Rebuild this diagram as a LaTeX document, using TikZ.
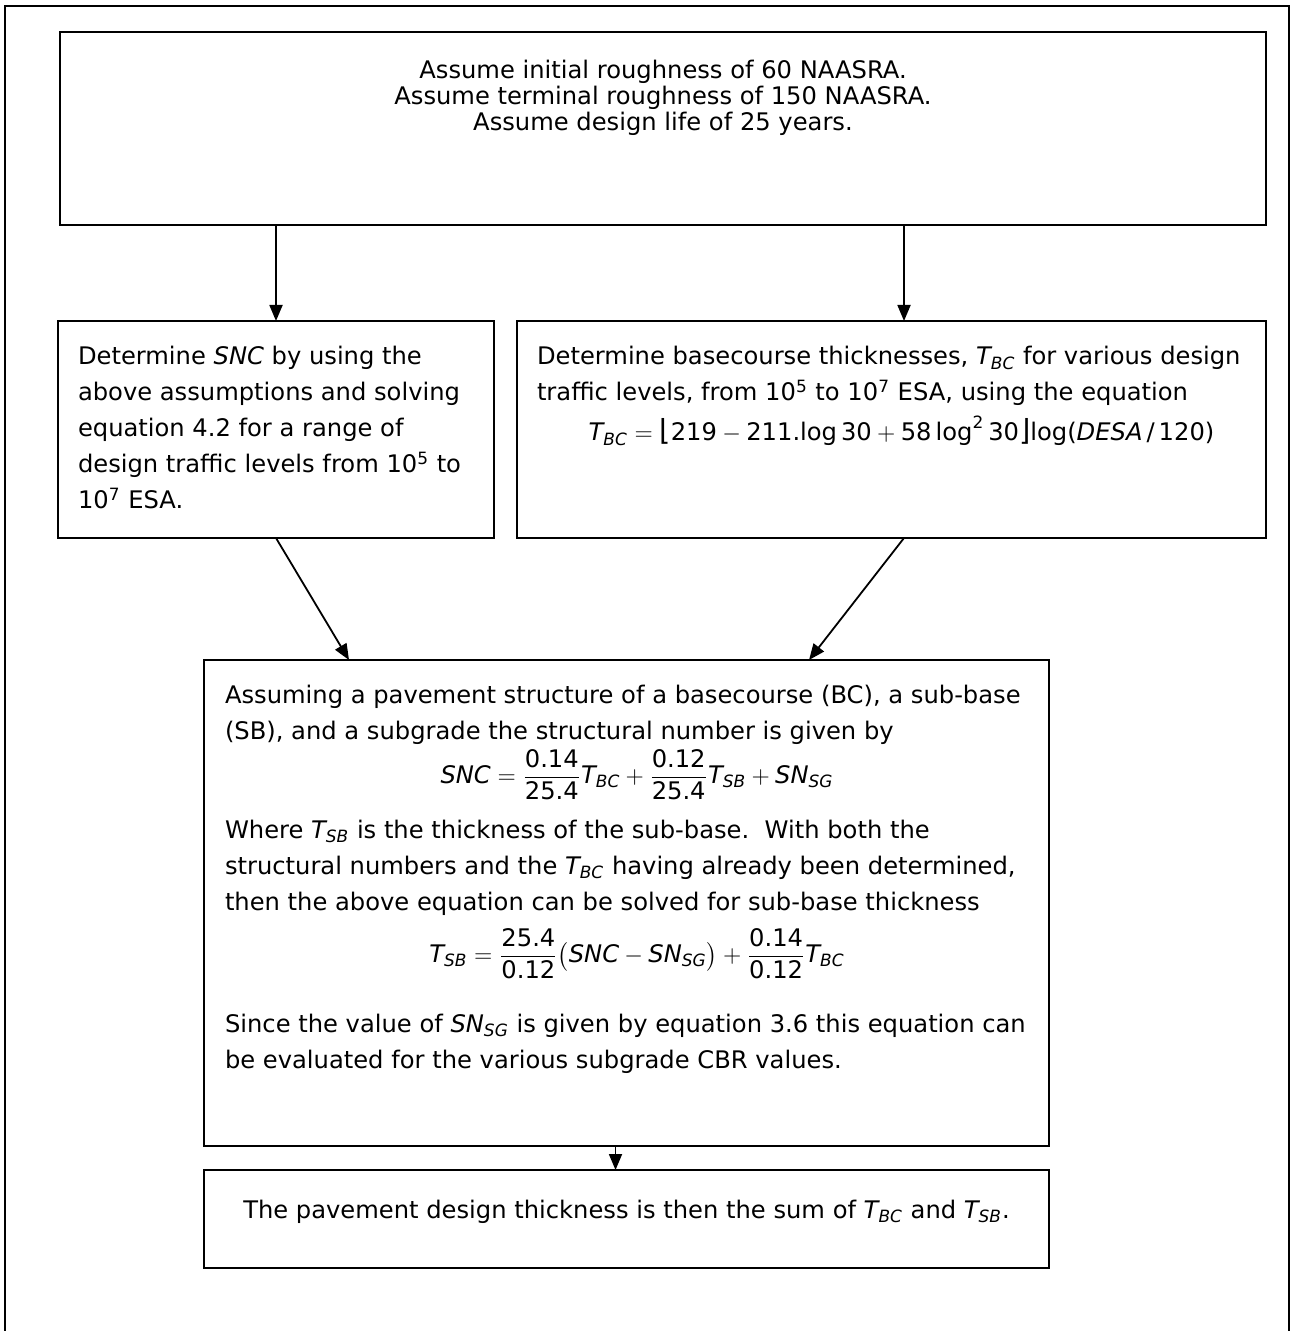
\documentclass[tikz,border=0pt]{standalone}
\usepackage{amsmath}
\usepackage{fontspec}
\setmainfont{DejaVu Sans}
\usetikzlibrary{arrows.meta,calc}
\tikzset{
    > = {Triangle[length=8pt, width=6.5pt]},
    flow/.style = {->, line width=0.9pt},
    procbox/.style = {draw, line width=0.9pt, anchor=north west, inner sep=0pt,
        outer sep=0pt, font=\fontsize{12.1}{18}\selectfont}
}
% italic variable, upright number and bracket inside formulas
\newcommand{\mv}[1]{\textit{#1}}
\newcommand{\nm}[1]{\text{#1}}
\newcommand{\brk}[1]{\text{\fontsize{14.5}{14.5}\selectfont #1}}
% box body: width, height, left padding, content
\newcommand{\boxbody}[4]{\parbox[b][#2][t]{#1}{\leftskip=#3\relax
    \rightskip=0pt plus 1fil\parindent=0pt\parfillskip=0pt plus 1fil
    \lineskiplimit=-\maxdimen #4}}

\begin{document}
\begin{tikzpicture}[x=0.5pt, y=-0.5pt]
    \useasboundingbox (0,0) rectangle (1296,1331);
    \draw[line width=0.9pt] (5,1331) -- (5,6) -- (1289,6) -- (1289,1331);

    \node[procbox] (top) at (60,32) {\boxbody{603pt}{96.5pt}{0pt}{\vspace*{14.2pt}
        \baselineskip=13pt
        \hspace*{\fill}Assume initial roughness of 60 NAASRA.\hspace*{\fill}\\
        \hspace*{\fill}Assume terminal roughness of 150 NAASRA.\hspace*{\fill}\\
        \hspace*{\fill}Assume design life of 25 years.\hspace*{\fill}}};

    \node[procbox] (left) at (58,321) {\boxbody{218pt}{108.5pt}{10pt}{\vspace*{12.8pt}
        Determine \mv{SNC} by using the\\
        above assumptions and solving\\
        equation 4.2 for a range of\\
        design traffic levels from 10\textsuperscript{5} to\\
        10\textsuperscript{7} ESA.}};

    \node[procbox] (right) at (517,321) {\boxbody{374.5pt}{108.5pt}{10pt}{\vspace*{12.8pt}
        Determine basecourse thicknesses, $\mv{T}_{\mv{BC}}$ for various design\\
        traffic levels, from 10\textsuperscript{5} to 10\textsuperscript{7} ESA, using the equation\\[2pt]
        \hspace*{\fill}$\mv{T}_{\mv{BC}} = \brk{⌊}\nm{219} - \nm{211.log}\,\nm{30} + \nm{58}\,\nm{log}^{\nm{2}}\,\nm{30}\brk{⌋}\nm{log(}\mv{DESA}\,\nm{/}\,\nm{120)}$\hspace*{\fill}}};

    \node[procbox] (mid) at (204,660) {\boxbody{422.5pt}{243pt}{10.5pt}{\vspace*{12.6pt}
        Assuming a pavement structure of a basecourse (BC), a sub-base\\
        (SB), and a subgrade the structural number is given by\\[3.95pt]
        \hspace*{\fill}$\mv{SNC} = \dfrac{\nm{0.14}}{\nm{25.4}}\mv{T}_{\mv{BC}} + \dfrac{\nm{0.12}}{\nm{25.4}}\mv{T}_{\mv{SB}} + \mv{SN}_{\mv{SG}}$\hspace*{\fill}\\[9.55pt]
        Where $\mv{T}_{\mv{SB}}$ is the thickness of the sub-base.\ \ With both the\\
        structural numbers and the $\mv{T}_{\mv{BC}}$ having already been determined,\\
        then the above equation can be solved for sub-base thickness\\[7.95pt]
        \hspace*{\fill}$\mv{T}_{\mv{SB}} = \dfrac{\nm{25.4}}{\nm{0.12}}\bigl(\mv{SNC} - \mv{SN}_{\mv{SG}}\bigr) + \dfrac{\nm{0.14}}{\nm{0.12}}\mv{T}_{\mv{BC}}$\hspace*{\fill}\\[17pt]
        Since the value of $\mv{SN}_{\mv{SG}}$ is given by equation 3.6 this equation can\\
        be evaluated for the various subgrade CBR values.}};

    \node[procbox] (bottom) at (204,1170) {\boxbody{422.5pt}{49pt}{0pt}{\vspace*{15.1pt}
        \hspace*{\fill}The pavement design thickness is then the sum of $\mv{T}_{\mv{BC}}$ and $\mv{T}_{\mv{SB}}$.\hspace*{\fill}}};

    \coordinate (rin) at ($(right.north)+(12.5,0)$);
    \coordinate (mlin) at ($(mid.north west)+(145,0)$);
    \coordinate (mrin) at ($(mid.north west)+(605,0)$);
    \coordinate (bin) at ($(bottom.north)+(-11,0)$);

    \draw[flow] (top.south -| left.north) -- (left.north);
    \draw[flow] (top.south -| rin) -- (rin);
    \draw[flow] (left.south) -- (mlin);
    \draw[flow] (rin |- right.south) -- (mrin);
    \draw[flow] (bin |- mid.south) -- (bin);
\end{tikzpicture}
\end{document}
